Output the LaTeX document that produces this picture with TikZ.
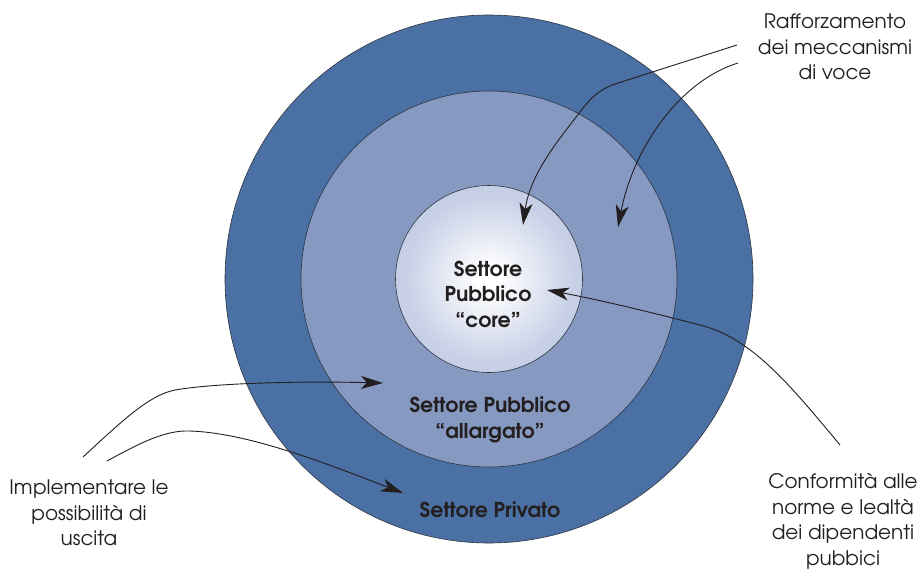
\documentclass[tikz,border=0pt]{standalone}
\usepackage{fontspec}
\setmainfont{texgyreadventor}[Extension=.otf, UprightFont=*-regular, BoldFont=*-bold, ItalicFont=*-italic, BoldItalicFont=*-bolditalic]
\usetikzlibrary{arrows.meta}

\definecolor{privblue}{HTML}{4A70A4}
\definecolor{widefill}{HTML}{8699C1}
\definecolor{coremid}{HTML}{C8D1E7}
\definecolor{coreedge}{HTML}{A5B3D5}
\definecolor{ringline}{HTML}{2E3440}
\definecolor{inktext}{HTML}{231F20}

% soft glow for the innermost ring
\pgfdeclareradialshading{coreglow}{\pgfpoint{0bp}{0bp}}{color(0bp)=(white); color(3bp)=(white); color(22bp)=(coremid); color(50bp)=(coreedge)}

\begin{document}
\begin{tikzpicture}[x=1pt,y=-1pt,
  ring/.style={circle, draw=ringline, line width=0.6pt, inner sep=0pt},
  caption/.style={align=center, text=inktext, font=\fontsize{20}{25.5}\selectfont},
  sector/.style={align=center, text=inktext, font=\bfseries\fontsize{20.5}{25.5}\selectfont},
  pointer/.style={draw=inktext, line width=0.9pt, -{Stealth[length=22pt,width=13pt,inset=6pt]}}]

\useasboundingbox (0,0) rectangle (923,571);

% concentric sectors
\node[ring, fill=privblue, minimum size=528pt] (private) at (489,279) {};
\node[ring, fill=widefill, minimum size=376pt] (wide) at (489,279) {};
\node[ring, shading=coreglow, minimum size=187pt] (core) at (489,279) {};

% sector names
\node[sector] (corelbl) at (488,294) {Settore\\Pubblico\\“core”};
\node[sector] (widelbl) at (490,420) {Settore Pubblico\\“allargato”};
\node[sector] (privlbl) at (490,510) {Settore Privato};

% side captions
\node[caption] (voice) at (835,47) {Rafforzamento\\dei meccanismi\\di voce};
\node[caption] (exit) at (89,513) {Implementare le\\possibilità di\\uscita};
\node[caption] (loyal) at (843,521) {Conformità alle\\norme e lealtà\\dei dipendenti\\pubbici};

% connector end points
\coordinate (voiceA) at (737,45);
\coordinate (voiceB) at (738,63);
\coordinate (coreTipA) at (523,225);
\coordinate (wideTipA) at (618,227);
\coordinate (loyalA) at (840,445);
\coordinate (coreTipB) at (547,290);
\coordinate (exitA) at (83,457);
\coordinate (exitB) at (107,461);
\coordinate (wideTipB) at (383,383);
\coordinate (privTip) at (403,493);

% voice arrows
\draw[pointer] (voiceA) -- (618,83) .. controls (600,89) and (592,96) .. (580,112)
  .. controls (556,143) and (530,175) .. (coreTipA);
\draw[pointer] (voiceB) .. controls (682,80) and (634,145) .. (wideTipA);

% loyalty arrow
\draw[pointer] (loyalA) .. controls (790,385) and (752,338) .. (700,325)
  .. controls (650,312) and (600,300) .. (coreTipB);

% exit arrows
\draw[pointer] (exitA) .. controls (125,418) and (150,395) .. (175,390)
  .. controls (215,383) and (300,381) .. (wideTipB);
\draw[pointer] (exitB) .. controls (140,443) and (165,430) .. (190,431)
  .. controls (250,433) and (330,465) .. (privTip);

\end{tikzpicture}
\end{document}
